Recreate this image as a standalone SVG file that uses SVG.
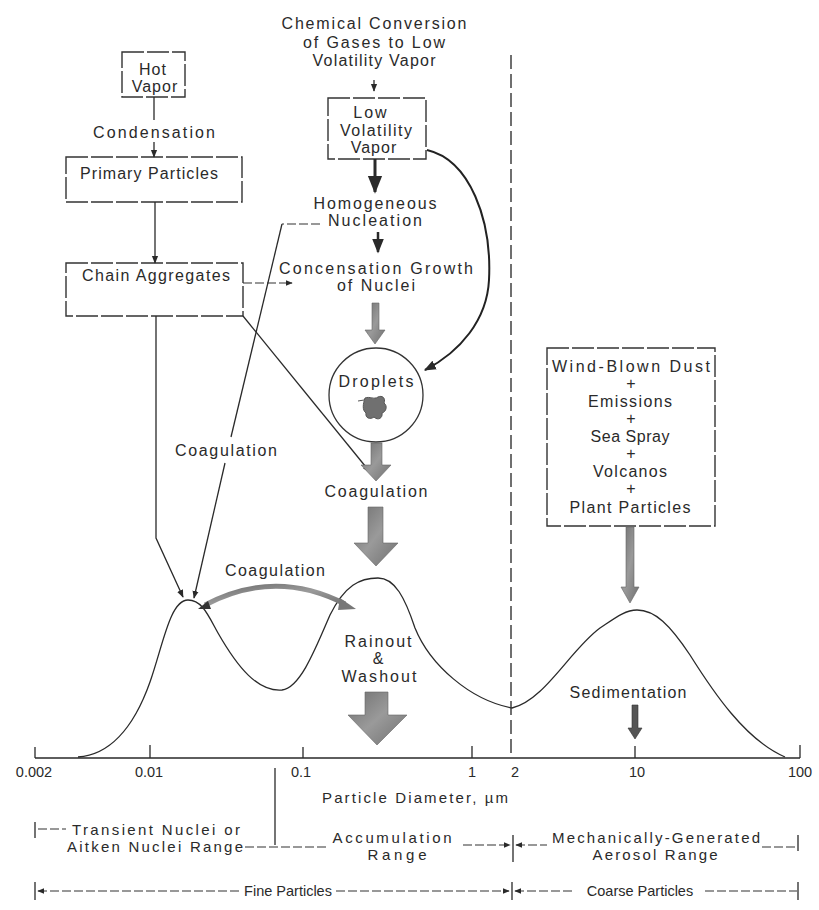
<svg xmlns="http://www.w3.org/2000/svg" width="819" height="910" viewBox="0 0 819 910">
<style>
text{font-family:"Liberation Sans","Open Sans",Arial,sans-serif;font-size:16px;fill:#2a2a2a;text-anchor:middle}
.sm{font-size:15px}
.xs{font-size:14.5px}
.ln{fill:none;stroke:#2a2a2a;stroke-width:1.3}
.box{fill:none;stroke:#333;stroke-width:1.4;stroke-dasharray:22 3}
.dash{fill:none;stroke:#333;stroke-width:1.2;stroke-dasharray:9 3}
.grey{fill:url(#gg);stroke:#666;stroke-width:0.6}
</style>
<defs>
<linearGradient id="gg" x1="0" y1="0" x2="1" y2="1">
<stop offset="0" stop-color="#6e6e6e"/><stop offset="0.5" stop-color="#9a9a9a"/><stop offset="1" stop-color="#707070"/>
</linearGradient>
<marker id="ah" viewBox="0 0 10 10" refX="9" refY="5" markerWidth="6" markerHeight="6" orient="auto"><path d="M0,1 L10,5 L0,9 z" fill="#2a2a2a"/></marker>
<marker id="ahs" viewBox="0 0 10 10" refX="1" refY="5" markerWidth="6" markerHeight="6" orient="auto"><path d="M10,1 L0,5 L10,9 z" fill="#2a2a2a"/></marker>
</defs>
<rect width="819" height="910" fill="#fff"/>

<g id="hot-vapor"><rect class="box" x="122" y="52" width="63" height="45"/><text x="153" y="75" letter-spacing="1">Hot</text><text x="155" y="92" letter-spacing="1">Vapor</text></g>
<g id="condensation"><text x="154" y="138" textLength="122" lengthAdjust="spacing">Condensation</text></g>
<g id="primary-particles"><rect class="box" x="66" y="157" width="176" height="45"/><text x="149" y="179" textLength="138" lengthAdjust="spacing">Primary Particles</text></g>
<g id="chain-aggregates"><rect class="box" x="66" y="263" width="177" height="53"/><text x="156" y="281" textLength="148" lengthAdjust="spacing">Chain Aggregates</text></g>
<g id="chemical-conversion"><text x="374" y="29" textLength="185" lengthAdjust="spacing">Chemical Conversion</text><text x="374" y="48" textLength="142" lengthAdjust="spacing">of Gases to Low</text><text x="374" y="66" textLength="123" lengthAdjust="spacing">Volatility Vapor</text></g>
<g id="low-volatility-vapor"><rect class="box" x="328" y="98" width="98" height="61"/><text x="371" y="118" letter-spacing="2">Low</text><text x="376" y="136" textLength="72" lengthAdjust="spacing">Volatility</text><text x="374" y="153" letter-spacing="1">Vapor</text></g>
<g id="homogeneous-nucleation"><text x="375" y="209" textLength="123" lengthAdjust="spacing">Homogeneous</text><text x="375" y="226" textLength="94" lengthAdjust="spacing">Nucleation</text></g>
<g id="condensation-growth"><text x="376" y="274" textLength="194" lengthAdjust="spacing">Concensation Growth</text><text x="376" y="291" textLength="78" lengthAdjust="spacing">of Nuclei</text></g>
<g id="droplets"><circle cx="376" cy="395" r="47" fill="none" stroke="#333" stroke-width="1.3"/><text x="376" y="387" textLength="75" lengthAdjust="spacing">Droplets</text>
<path d="M358 401 L364 400 M365 398 C370 396 374 400 378 397 C382 395 386 398 384 403 C388 406 386 412 382 413 C383 418 378 421 374 417 C370 420 365 418 366 413 C362 410 363 404 365 398 Z" fill="#707070" stroke="#555" stroke-width="1"/></g>
<g id="coagulation-center"><text x="376" y="497" textLength="103" lengthAdjust="spacing">Coagulation</text></g>
<g id="coagulation-left"><text x="226" y="456" textLength="102" lengthAdjust="spacing">Coagulation</text></g>
<g id="coagulation-arc-label"><text x="275" y="576" textLength="100" lengthAdjust="spacing">Coagulation</text></g>
<g id="rainout"><text x="378" y="647" textLength="67" lengthAdjust="spacing">Rainout</text><text x="378" y="664">&amp;</text><text x="379" y="682" textLength="75" lengthAdjust="spacing">Washout</text></g>
<g id="sources"><rect class="box" x="547" y="348" width="168" height="178"/>
<text x="631" y="372" textLength="158" lengthAdjust="spacing">Wind-Blown Dust</text><text x="631" y="389">+</text><text x="630" y="407" textLength="84" lengthAdjust="spacing">Emissions</text><text x="631" y="424">+</text><text x="630" y="442" textLength="79" lengthAdjust="spacing">Sea Spray</text><text x="631" y="459">+</text><text x="630" y="477" textLength="74" lengthAdjust="spacing">Volcanos</text><text x="631" y="494">+</text><text x="630" y="513" textLength="121" lengthAdjust="spacing">Plant Particles</text></g>
<g id="sedimentation"><text x="628" y="698" textLength="117" lengthAdjust="spacing">Sedimentation</text></g>

<g id="distribution-curve"><path class="ln" d="M78 757 C108 755 133 730 150 682 C163 645 170 600 188 600 C202 600 208 615 218 633 C238 668 258 692 282 690 C300 688 315 650 330 615 C345 585 360 578 378 578 C395 578 405 598 415 628 C430 665 470 700 512 708 C545 700 570 650 600 628 C615 618 625 610 637 610 C655 610 670 625 690 655 C712 690 745 740 785 757"/></g>

<g id="axis">
<path class="ln" d="M35 758 L800 758 M35 747 V758 M150 745 V758 M303 747 V758 M472 746 V758 M635 746 V758 M800 745 V758"/>
<path d="M511 55 V758" fill="none" stroke="#333" stroke-width="1.4" stroke-dasharray="14 5"/>
<text class="xs" x="34" y="777">0.002</text><text class="xs" x="149" y="777">0.01</text><text class="xs" x="301" y="777">0.1</text><text class="xs" x="472" y="777">1</text><text class="xs" x="515" y="777">2</text><text class="xs" x="637" y="777">10</text><text class="xs" x="800" y="777">100</text>
<text class="sm" x="415" y="803" textLength="186" lengthAdjust="spacing">Particle Diameter, µm</text>
<path class="ln" d="M275 768 V845"/>
</g>

<g id="ranges">
<text class="sm" x="156" y="835" textLength="168" lengthAdjust="spacing">Transient Nuclei or</text><text class="sm" x="155" y="852" textLength="176" lengthAdjust="spacing">Aitken Nuclei Range</text>
<text class="sm" x="392" y="843" textLength="119" lengthAdjust="spacing">Accumulation</text><text class="sm" x="397" y="860" textLength="59" lengthAdjust="spacing">Range</text>
<text class="sm" x="656" y="843" textLength="208" lengthAdjust="spacing">Mechanically-Generated</text><text class="sm" x="655" y="860" textLength="125" lengthAdjust="spacing">Aerosol Range</text>
<text class="xs" x="288" y="896">Fine Particles</text><text class="xs" x="640" y="896">Coarse Particles</text>
<path class="ln" d="M35 822 V838 M513 835 V862 M798 835 V851 M35 882 V900 M512 882 V900 M798 882 V900"/>
<path class="dash" d="M38 829 H66"/>
<path class="dash" d="M245 847 H326"/>
<path class="dash" d="M463 845 H510" marker-end="url(#ah)"/>
<path class="dash" d="M516 845 H547" marker-start="url(#ahs)"/>
<path class="dash" d="M762 847 H797"/>
<path class="dash" d="M38 891 H240" marker-start="url(#ahs)"/>
<path class="dash" d="M336 891 H509" marker-end="url(#ah)"/>
<path class="dash" d="M515 891 H575" marker-start="url(#ahs)"/>
<path class="dash" d="M705 891 H797"/>
</g>

<g id="connectors">
<path class="ln" d="M154 97 V120"/>
<path class="ln" d="M154 142 V157" marker-end="url(#ah)"/>
<path class="ln" d="M155 202 V263" marker-end="url(#ah)"/>
<path class="ln" d="M374 80 V91" marker-end="url(#ah)"/>
<path d="M375 159 V192" fill="none" stroke="#2a2a2a" stroke-width="3" marker-end="url(#ah)"/>
<path d="M378 232 V252" fill="none" stroke="#2a2a2a" stroke-width="2.5" marker-end="url(#ah)"/>
<path class="dash" d="M243 283 H292" marker-end="url(#ah)"/>
<path class="dash" d="M320 224 H282"/>
<path class="ln" d="M282 224 L231 437"/>
<path class="ln" d="M225 463 L194 598" marker-end="url(#ah)"/>
<path class="ln" d="M156 316 V538 L183 597" marker-end="url(#ah)"/>
<path class="ln" d="M243 316 L370 472" marker-end="url(#ah)"/>
<path d="M427 150 C470 160 492 220 489 280 C487 320 460 352 425 370" fill="none" stroke="#222" stroke-width="2" marker-end="url(#ah)"/>
<polygon class="grey" points="372,303 379,303 379,330 385,330 375,344 365,330 372,330"/>
<polygon class="grey" points="371,443 382,443 382,465 391,465 376,481 361,465 371,465"/>
<polygon class="grey" points="368,507 383,507 383,543 398,543 376,566 354,543 368,543"/>
<polygon class="grey" points="365,692 388,692 388,715 407,715 377,745 348,715 365,715"/>
<polygon class="grey" points="626,527 634,527 634,587 639,587 630,603 621,587 626,587"/>
<polygon points="632,705 638,705 638,728 642,728 635,739 628,728 632,728" fill="#555" stroke="#333" stroke-width="0.6"/>
<path d="M205 605 Q275 568 345 604" fill="none" stroke="url(#gg)" stroke-width="5"/>
<polygon points="208,601 211,609 198,609" fill="#333"/>
<polygon points="340,598 356,609 338,610" fill="#777"/>
</g>
</svg>
